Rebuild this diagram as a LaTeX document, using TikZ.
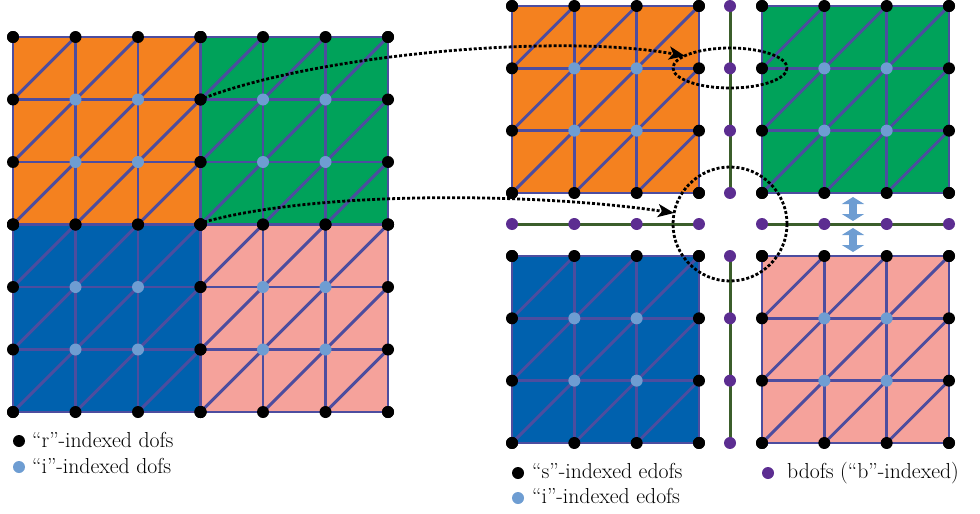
\documentclass[tikz,border=0pt]{standalone}
\usetikzlibrary{arrows.meta}
\definecolor{cOrange}{HTML}{F4811F}
\definecolor{cGreen}{HTML}{00A25A}
\definecolor{cBlue}{HTML}{0061AE}
\definecolor{cPink}{HTML}{F5A29B}
\definecolor{cGrid}{HTML}{4D4D9F}
\definecolor{cLB}{HTML}{6E9DD2}
\definecolor{cPurple}{HTML}{5C2D91}
\definecolor{cGL}{HTML}{3B5E2B}
\newcommand\subgrid[4]{%
  \fill[#4] (#1,#2) rectangle ({#1+3*#3},{#2+3*#3});
  \foreach \k in {0,1,2,3}{
    \draw[gridline] ({#1+\k*#3},#2) -- ({#1+\k*#3},{#2+3*#3});
    \draw[gridline] (#1,{#2+\k*#3}) -- ({#1+3*#3},{#2+\k*#3});
  }
  \foreach \i in {0,1,2}{\foreach \j in {0,1,2}{
    \draw[gridline] ({#1+\i*#3},{#2+(\j+1)*#3}) -- ({#1+(\i+1)*#3},{#2+\j*#3});
  }}
}
\newcommand\subdots[3]{%
  \foreach \i in {0,1,2,3}{\foreach \j in {0,3}{
     \fill[black] ({#1+\i*#3},{#2+\j*#3}) circle[radius=6];
     \fill[black] ({#1+\j*#3},{#2+\i*#3}) circle[radius=6];
  }}
  \foreach \i in {1,2}{\foreach \j in {1,2}{
     \fill[cLB] ({#1+\i*#3},{#2+\j*#3}) circle[radius=6];}}
}
\begin{document}
\begin{tikzpicture}[x=1pt,y=-1pt,
  gridline/.style={draw=cGrid, line width=2.9pt},
  bline/.style={draw=cGL, line width=3pt},
  dotline/.style={draw=black, line width=2.8pt, dash pattern=on 3pt off 2pt},
  dotarrow/.style={dotline, -{Stealth[length=16pt,width=13pt,inset=4pt]}},
  fatarrow/.style={draw=cLB, line width=8pt, {Triangle[width=22pt,length=7pt]}-{Triangle[width=22pt,length=7pt]}},
  lbl/.style={anchor=base west, inner sep=0pt, font=\fontsize{21.7}{26}\selectfont}]
\useasboundingbox (0,0) rectangle (980,514);
% left decomposition
\subgrid{13}{37}{62.5}{cOrange}
\subgrid{200.5}{37}{62.5}{cGreen}
\subgrid{13}{224.5}{62.5}{cBlue}
\subgrid{200.5}{224.5}{62.5}{cPink}
\subdots{13}{37}{62.5}
\subdots{200.5}{37}{62.5}
\subdots{13}{224.5}{62.5}
\subdots{200.5}{224.5}{62.5}
% right decomposition
\subgrid{512}{6}{62.33}{cOrange}
\subgrid{762}{6}{62.33}{cGreen}
\subgrid{512}{256}{62.33}{cBlue}
\subgrid{762}{256}{62.33}{cPink}
\draw[bline] (730,6) -- (730,193);
\draw[bline] (730,256) -- (730,443);
\draw[bline] (512,224) -- (699,224);
\draw[bline] (762,224) -- (949,224);
\subdots{512}{6}{62.33}
\subdots{762}{6}{62.33}
\subdots{512}{256}{62.33}
\subdots{762}{256}{62.33}
\foreach \k in {0,1,2,3}{
  \fill[cPurple] (730,{6+\k*62.33}) circle[radius=6];
  \fill[cPurple] (730,{256+\k*62.33}) circle[radius=6];
  \fill[cPurple] ({512+\k*62.33},224) circle[radius=6];
  \fill[cPurple] ({762+\k*62.33},224) circle[radius=6];
}
% fat double arrows
\draw[fatarrow] (853,197) -- (853,221);
\draw[fatarrow] (853,228) -- (853,252);
% dotted highlights
\coordinate (s1) at (204,98);
\coordinate (e1) at (685,56);
\coordinate (s2) at (204,222);
\coordinate (e2) at (674,213);
\draw[dotline] (730,68) ellipse [x radius=57, y radius=20];
\draw[dotline] (730,224) circle [radius=57];
\draw[dotarrow] (s1) .. controls (320,54) and (560,33) .. (e1);
\draw[dotarrow] (s2) .. controls (320,190) and (540,193) .. (e2);
% legends
\fill[black] (19,441) circle[radius=6];
\node[lbl] (l1) at (32,447.5) {``r''-indexed dofs};
\fill[cLB] (19,467) circle[radius=6];
\node[lbl] (l2) at (32,473) {``i''-indexed dofs};
\fill[black] (518,473) circle[radius=6];
\node[lbl] (l3) at (532,478.5) {``s''-indexed edofs};
\fill[cLB] (518,498) circle[radius=6];
\node[lbl] (l4) at (532,503.5) {``i''-indexed edofs};
\fill[cPurple] (768,473) circle[radius=6];
\node[lbl] (l5) at (787,478.5) {bdofs (``b''-indexed)};
\end{tikzpicture}
\end{document}
